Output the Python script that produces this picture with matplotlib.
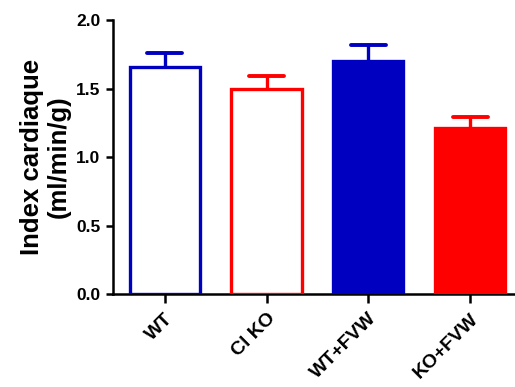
import numpy as np
import matplotlib
matplotlib.use('Agg')
import matplotlib.pyplot as plt

plt.rcParams['font.family'] = ['Liberation Sans', 'DejaVu Sans']
plt.rcParams['font.weight'] = 'bold'

# data
groups = ['WT', 'Cl KO', 'WT+FVW', 'KO+FVW']
means = [1.66, 1.50, 1.70, 1.21]
sem = [0.10, 0.09, 0.12, 0.08]
colors = ['#0000C0', '#FF0000', '#0000C0', '#FF0000']
filled = [False, False, True, True]

fig = plt.figure(figsize=(5.15, 3.87), dpi=100)
ax = fig.add_axes([0.219, 0.240, 0.781, 0.708])

x = np.arange(len(groups))
means = np.array(means)
sem = np.array(sem)
for i in range(len(groups)):
    fc = colors[i] if filled[i] else 'white'
    ax.bar(x[i], means[i], width=0.69, color=fc, edgecolor=colors[i],
           linewidth=2.4, zorder=3)
    # upper error bar only
    ax.vlines(x[i], means[i], means[i] + sem[i], color=colors[i],
              linewidth=2.4, zorder=2)
    ax.hlines(means[i] + sem[i], x[i] - 0.17, x[i] + 0.17, color=colors[i],
              linewidth=2.8, zorder=2, capstyle='round')

ax.set_xlim(-0.51, 3.44)
ax.set_ylim(0, 2.0)
ax.set_yticks([0.0, 0.5, 1.0, 1.5, 2.0])
ax.set_yticklabels(['0.0', '0.5', '1.0', '1.5', '2.0'], fontsize=12.5, fontweight='bold')
ax.set_xticks(x)
ax.set_xticklabels(groups, rotation=45, ha='right', rotation_mode='anchor',
                   fontsize=14, fontweight='bold')
ax.set_ylabel('Index cardiaque\n(ml/min/g)', fontsize=18.5, fontweight='bold',
              labelpad=4, linespacing=1.1)

ax.spines['top'].set_visible(False)
ax.spines['right'].set_visible(False)
ax.spines['left'].set_linewidth(1.8)
ax.spines['bottom'].set_linewidth(1.8)
ax.tick_params(axis='y', width=1.8, length=5, direction='out', pad=4)
ax.tick_params(axis='x', width=1.8, length=6.5, direction='out', pad=5)

fig.savefig('out.png', dpi=100)
